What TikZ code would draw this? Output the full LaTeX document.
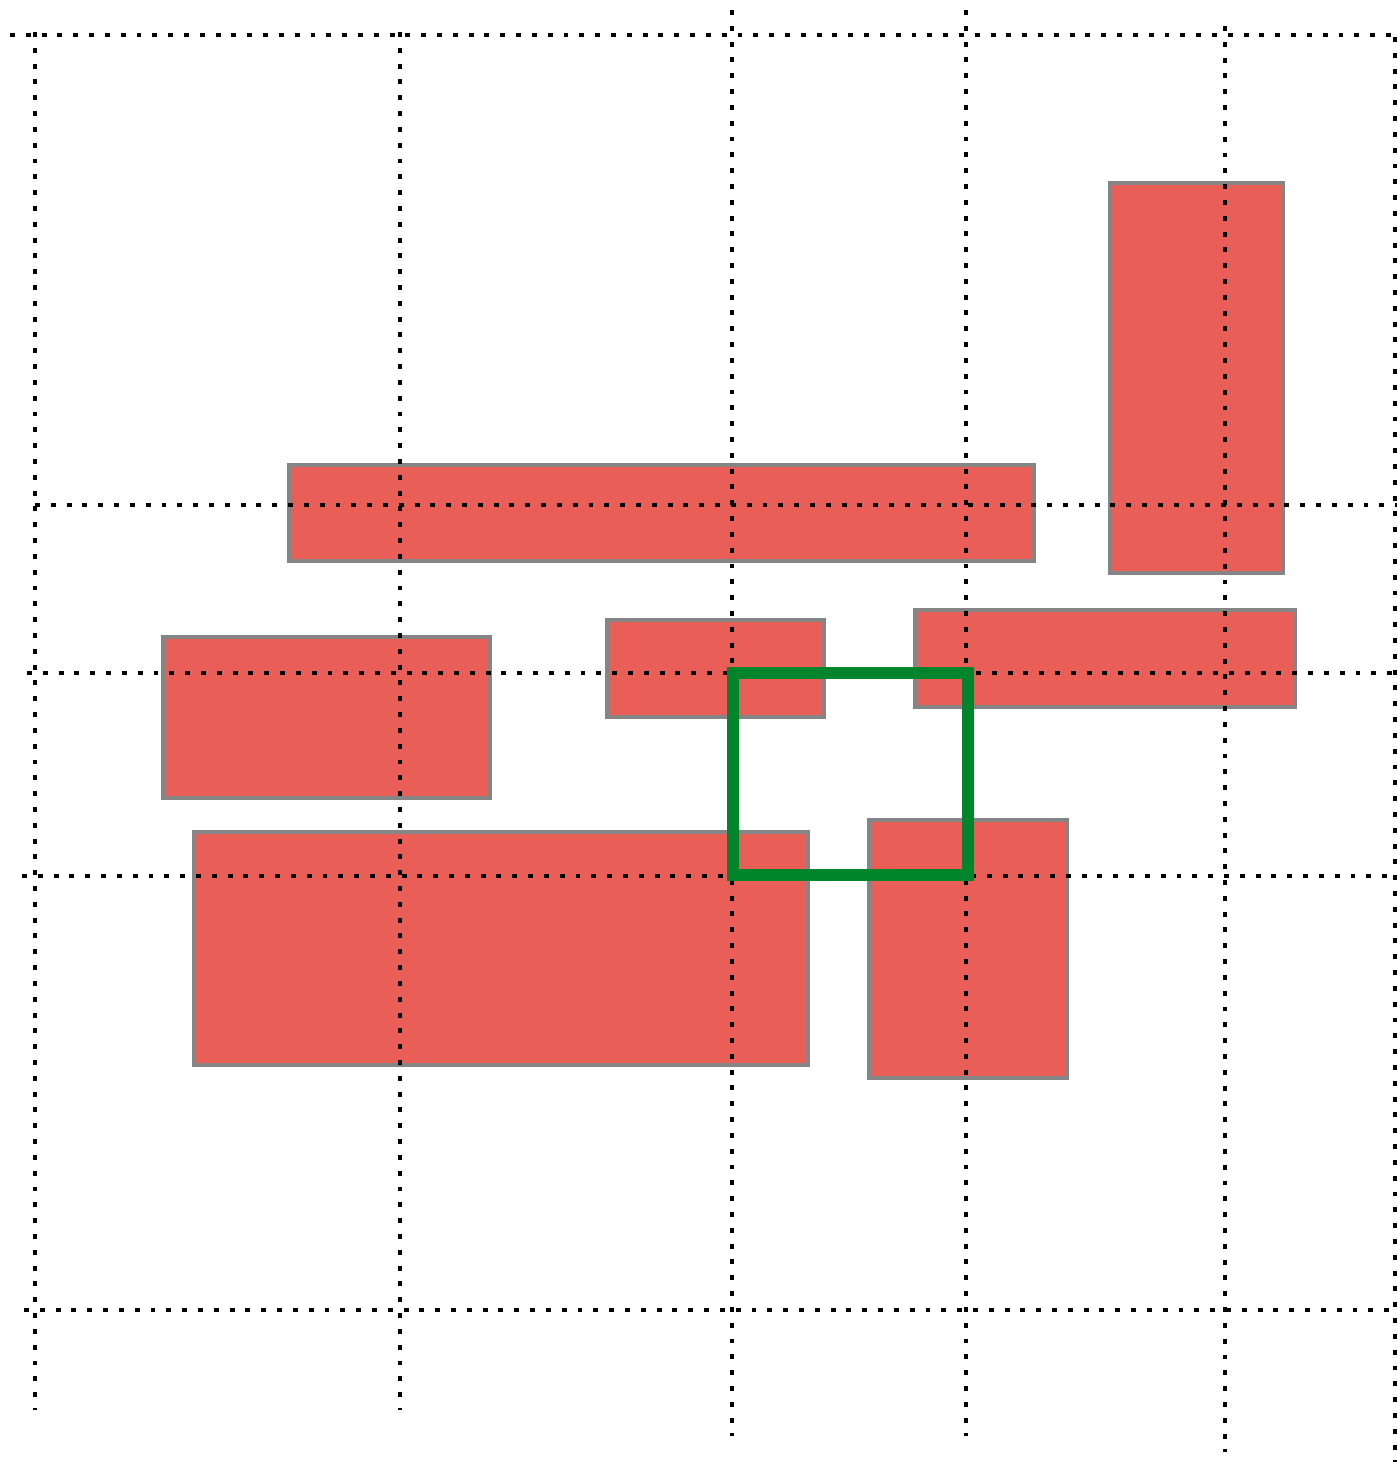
\documentclass[tikz,border=0pt]{standalone}
\usepackage{tikz}

\definecolor{blockred}{RGB}{234,94,88}
\definecolor{blockedge}{RGB}{133,133,133}
\definecolor{windowgreen}{RGB}{0,133,45}

\begin{document}
\begin{tikzpicture}[x=1cm, y=1cm]
    % Styles
    \tikzstyle{block} = [fill=blockred, draw=blockedge, line width=0.9pt]
    \tikzstyle{gridline} = [black, line width=1.4pt, dash pattern=on 1.4pt off 3.1pt]
    \tikzstyle{window} = [draw=windowgreen, line width=0.125cm]

    % page frame
    \useasboundingbox (0,0) rectangle (13.97,-14.62);

    % === BLOCKS ===
    % tall block, top right
    \draw [block] (11.10,-1.83) rectangle (12.83,-5.73);
    % long block
    \draw [block] (2.89,-4.65) rectangle (10.34,-5.61);
    % left block
    \draw [block] (1.63,-6.37) rectangle (4.90,-7.98);
    % small middle block
    \draw [block] (6.07,-6.20) rectangle (8.24,-7.17);
    % wide right block
    \draw [block] (9.15,-6.10) rectangle (12.95,-7.07);
    % big bottom block
    \draw [block] (1.94,-8.32) rectangle (8.08,-10.65);
    % bottom right block
    \draw [block] (8.69,-8.20) rectangle (10.67,-10.78);

    % === GRID: vertical lines ===
    \draw [gridline] (0.35,-0.32) -- (0.35,-14.10);
    \draw [gridline] (4.00,-0.32) -- (4.00,-14.10);
    \draw [gridline] (7.32,-0.10) -- (7.32,-14.36);
    \draw [gridline] (9.66,-0.10) -- (9.66,-14.36);
    \draw [gridline] (12.25,-0.26) -- (12.25,-14.52);
    \draw [gridline] (13.95,-0.37) -- (13.95,-14.62);

    % === GRID: horizontal lines ===
    \draw [gridline] (0.10,-0.35) -- (13.97,-0.35);
    \draw [gridline] (0.35,-5.05) -- (13.97,-5.05);
    \draw [gridline] (0.27,-6.73) -- (13.97,-6.73);
    \draw [gridline] (0.22,-8.76) -- (13.97,-8.76);
    \draw [gridline] (0.24,-13.10) -- (13.97,-13.10);

    % === WINDOW ===
    \draw [window] (7.33,-6.73) rectangle (9.68,-8.75);

\end{tikzpicture}
\end{document}
